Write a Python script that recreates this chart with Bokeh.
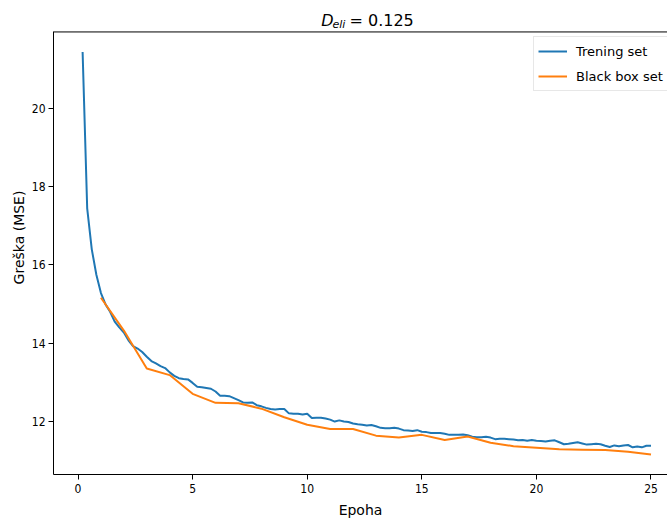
from bokeh.plotting import figure
from bokeh.embed import file_html
from bokeh.resources import INLINE
from bokeh.models import (Label, Legend, LegendItem, FixedTicker, Span,
                          Range1d, ColumnDataSource)

# ---------------- data ----------------
train_epochs = [round(0.2 * i, 1) for i in range(1, 126)]
train_mse = [
    21.45, 17.45, 16.40, 15.75, 15.28, 14.99, 14.80, 14.55, 14.40, 14.27,
    14.07, 13.92, 13.86, 13.77, 13.65, 13.54, 13.48, 13.41, 13.36, 13.25,
    13.16, 13.10, 13.08, 13.07, 12.98, 12.88, 12.87, 12.85, 12.83, 12.76,
    12.65, 12.65, 12.64, 12.59, 12.54, 12.48, 12.47, 12.48, 12.41, 12.38,
    12.34, 12.31, 12.30, 12.31, 12.31, 12.20, 12.19, 12.19, 12.17, 12.19,
    12.08, 12.09, 12.09, 12.07, 12.04, 11.99, 12.02, 11.99, 11.98, 11.94,
    11.92, 11.91, 11.89, 11.90, 11.87, 11.83, 11.82, 11.82, 11.83, 11.81,
    11.77, 11.76, 11.75, 11.77, 11.73, 11.72, 11.70, 11.70, 11.70, 11.68,
    11.65, 11.65, 11.65, 11.66, 11.64, 11.60, 11.59, 11.59, 11.60, 11.58,
    11.54, 11.55, 11.55, 11.54, 11.53, 11.51, 11.52, 11.50, 11.52, 11.50,
    11.49, 11.48, 11.50, 11.51, 11.46, 11.41, 11.42, 11.44, 11.46, 11.43,
    11.40, 11.41, 11.42, 11.41, 11.37, 11.34, 11.38, 11.36, 11.38, 11.39,
    11.33, 11.35, 11.33, 11.37, 11.37,
]
bb_epochs = [1, 2, 3, 4, 5, 6, 7, 8, 9, 10, 11, 12, 13, 14, 15, 16, 17, 18,
             19, 20, 21, 22, 23, 24, 25]
bb_mse = [15.16, 14.32, 13.35, 13.18, 12.70, 12.47, 12.46, 12.32, 12.10,
          11.91, 11.80, 11.80, 11.63, 11.58, 11.65, 11.52, 11.61, 11.45,
          11.36, 11.32, 11.28, 11.27, 11.26, 11.22, 11.15]

x_ticks = [0, 5, 10, 15, 20, 25]
y_ticks = [12, 14, 16, 18, 20]
series_names = ["Trening set", "Black box set"]
colors = ["#1f77b4", "#ff7f0e"]
title_parts = ["D", "eli", "= 0.125"]

# axes limits (matplotlib-style 5% margins); the frame extends above the
# axes box to hold the title, the axes box top is drawn as a spine line
X_MIN, X_MAX = -1.07, 25.72
Y_MIN, Y_MAX = 10.635, 21.965
Y_FRAME_TOP = 22.77

TICK_FONT = "DejaVu Sans Condensed"
FONT = "DejaVu Sans"

p = figure(width=667, height=520,
           x_range=Range1d(X_MIN, X_MAX), y_range=Range1d(Y_MIN, Y_FRAME_TOP),
           output_backend="svg", toolbar_location=None,
           min_border_left=53, min_border_right=0, min_border_top=0,
           min_border_bottom=44)
p.xgrid.visible = False
p.ygrid.visible = False
p.outline_line_color = None
p.background_fill_color = "white"
p.border_fill_color = "white"

for ax in (p.xaxis[0], p.yaxis[0]):
    ax.axis_line_color = "black"
    ax.axis_line_width = 1
    ax.major_tick_line_color = "black"
    ax.major_tick_out = 5
    ax.major_tick_in = 0
    ax.minor_tick_out = 0
    ax.minor_tick_in = 0
    ax.major_label_text_font = TICK_FONT
    ax.major_label_text_font_size = "12px"
    ax.major_label_text_color = "black"
    ax.axis_label_text_font = FONT
    ax.axis_label_text_font_size = "14px"
    ax.axis_label_text_font_style = "normal"
    ax.axis_label_text_color = "black"

p.xaxis.ticker = FixedTicker(ticks=x_ticks)
p.yaxis.ticker = FixedTicker(ticks=y_ticks)
p.yaxis.bounds = (Y_MIN, Y_MAX)
p.xaxis.axis_label = "Epoha"
p.yaxis.axis_label = "Greška (MSE)"
p.xaxis.major_label_standoff = 4
p.xaxis.axis_label_standoff = 6
p.yaxis.major_label_standoff = 3
p.yaxis.axis_label_standoff = 2

# top spine of the axes box
p.add_layout(Span(location=Y_MAX, dimension="width", line_color="black",
                  line_width=1))

src_train = ColumnDataSource(dict(x=train_epochs, y=train_mse))
src_bb = ColumnDataSource(dict(x=bb_epochs, y=bb_mse))
r1 = p.line("x", "y", source=src_train, line_color=colors[0], line_width=2)
r2 = p.line("x", "y", source=src_bb, line_color=colors[1], line_width=2)

legend = Legend(items=[LegendItem(label=series_names[0], renderers=[r1]),
                       LegendItem(label=series_names[1], renderers=[r2])],
                location=(480, 383))
legend.label_text_font = FONT
legend.label_text_font_size = "13px"
legend.label_text_color = "black"
legend.glyph_width = 29
legend.glyph_height = 20
legend.label_height = 20
legend.label_standoff = 9
legend.spacing = 5
legend.padding = 4
legend.margin = 0
legend.border_line_color = "#d0d0d0"
legend.border_line_width = 1
legend.background_fill_color = "white"
legend.background_fill_alpha = 0.8
p.add_layout(legend, "center")

# title D_eli = 0.125 built from pieces (screen units relative to the frame)
ty = 454
p.add_layout(Label(x=267.7, y=ty, x_units="screen", y_units="screen",
                   text=title_parts[0], text_font=FONT, text_font_style="italic",
                   text_font_size="16px", text_baseline="alphabetic",
                   text_color="black"))
p.add_layout(Label(x=279, y=ty - 4, x_units="screen", y_units="screen",
                   text=title_parts[1], text_font=FONT, text_font_style="italic",
                   text_font_size="11px", text_baseline="alphabetic",
                   text_color="black"))
p.add_layout(Label(x=296, y=ty, x_units="screen", y_units="screen",
                   text=title_parts[2], text_font=FONT, text_font_size="16px",
                   text_baseline="alphabetic", text_color="black"))

open("out.html", "w").write(file_html(p, INLINE))
